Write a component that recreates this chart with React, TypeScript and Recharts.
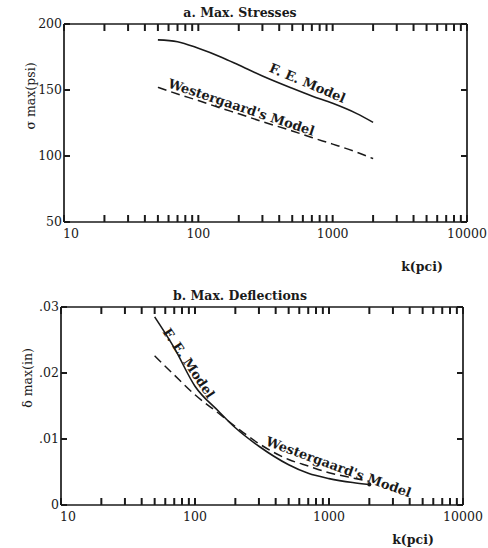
import { LineChart, Line, XAxis, YAxis, ReferenceDot } from 'recharts'

// k(pci) sample points
const kValues = [50, 70, 100, 150, 200, 300, 500, 700, 1000, 1500, 2000]
const stressFE = [188, 186.6, 181.6, 174.7, 168.9, 160.6, 151.3, 145.5, 139.9, 132.3, 125.5]
const stressWest = [152, 147, 142, 136, 132, 126, 119, 114, 109, 103, 98]
const deflFE = [0.0285, 0.0238, 0.018, 0.0142, 0.0117, 0.0089, 0.0061, 0.0048, 0.004, 0.0034, 0.0031]
const deflWest = [0.0226, 0.0197, 0.0167, 0.0139, 0.0119, 0.0093, 0.0069, 0.0059, 0.0049, 0.0041, 0.0036]

const majorK = [10, 100, 1000, 10000]
const minorK = [20, 30, 40, 50, 60, 70, 80, 90, 200, 300, 400, 500, 600, 700, 800, 900, 2000, 3000, 4000, 5000, 6000, 7000, 8000, 9000]
const stressTicks = [50, 100, 150, 200]
const deflTicks = [0, 0.01, 0.02, 0.03]

const stressData = kValues.map((k, i) => ({ k, fe: stressFE[i], west: stressWest[i] }))
const deflData = kValues.map((k, i) => ({ k, fe: deflFE[i], west: deflWest[i] }))

const ink = '#1a1a1a'
const font = "'DejaVu Serif', serif"
const allK = [...majorK, ...minorK]
const TICK = 7
const TICK_W = 2

// bottom/left tick lines come from recharts (negative tickSize = inward);
// these draw the numbers plus the matching tick on the opposite side of the frame
const kTick = (plotH: number) => (props: any) => {
  const { x, y, payload } = props
  const v = payload.value
  const top = y - plotH
  return (
    <g>
      <line x1={x} x2={x} y1={top} y2={top + TICK} stroke={ink} strokeWidth={TICK_W} />
      {majorK.includes(v) && (
        <text x={v === 10 ? x - 1 : x} y={y + 16} textAnchor={v === 10 ? 'start' : 'middle'}
          fontFamily={font} fontSize={12.5} fill={ink}>{v}</text>
      )}
    </g>
  )
}

const yTick = (plotW: number, fmt: (v: number) => string) => (props: any) => {
  const { x, y, payload } = props
  const right = x + plotW
  return (
    <g>
      <line x1={right} x2={right - 6} y1={y} y2={y} stroke={ink} strokeWidth={TICK_W} />
      <text x={x - 2} y={y} dy="0.35em" textAnchor="end" fontFamily={font} fontSize={12.5} fill={ink}>
        {fmt(payload.value)}
      </text>
    </g>
  )
}

const curveLabel = (text: string, angle: number) => (p: any) => (
  <text x={p.cx} y={p.cy} dy="0.35em" textAnchor="middle" transform={`rotate(${angle} ${p.cx} ${p.cy})`}
    fontFamily={font} fontSize={13} fontWeight="bold" fill={ink}>{text}</text>
)

const caption = (text: string, dx: number, dy: number, angle = 0, weight = 'bold') => (p: any) => {
  const vb = p.viewBox
  const x = vb.x + dx
  const y = vb.y + dy
  return (
    <text x={x} y={y} textAnchor="middle" transform={angle ? `rotate(${angle} ${x} ${y})` : undefined}
      fontFamily={font} fontSize={12.5} fontWeight={weight} fill={ink}>{text}</text>
  )
}

const endDot = (last: number) => (p: any) =>
  p.index === last ? <circle key={p.index} cx={p.cx} cy={p.cy} r={2} fill={ink} /> : <g key={p.index} />

function Panel(props: {
  data: any[]; height: number; margin: any; yDomain: number[]; yTicks: number[];
  fmt: (v: number) => string; title: string; titleDx: number; yLabel: string; yLabelDy: number;
  kLabelDx: number; kLabelDy: number; children?: any; dot?: any
}) {
  const { data, height, margin, yDomain, yTicks, fmt } = props
  const frame = { stroke: ink, strokeWidth: 1.7 }
  const tickLine = { stroke: ink, strokeWidth: TICK_W }
  const plotH = height - margin.top - margin.bottom - 21
  const plotW = 488 - margin.left - margin.right - 61
  return (
    <LineChart width={488} height={height} data={data} margin={margin}>
      <XAxis dataKey="k" type="number" scale="log" domain={[10, 10000]} allowDataOverflow ticks={allK}
        interval={0} height={20} tickSize={-TICK} tickMargin={TICK} tick={kTick(plotH)}
        axisLine={frame} tickLine={tickLine}
        label={{ content: caption('k(pci)', props.kLabelDx, props.kLabelDy) }} />
      <XAxis xAxisId="top" dataKey="k" type="number" scale="log" domain={[10, 10000]} allowDataOverflow
        orientation="top" ticks={allK} interval={0} height={1} tick={false} axisLine={frame} tickLine={false}
        label={{ content: caption(props.title, props.titleDx, -6) }} />
      <YAxis type="number" domain={yDomain} allowDataOverflow ticks={yTicks} interval={0} width={60}
        tickSize={-6} tickMargin={6} tick={yTick(plotW, fmt)} axisLine={frame} tickLine={tickLine}
        label={{ content: caption(props.yLabel, 31, props.yLabelDy, -90, 'normal') }} />
      <YAxis yAxisId="r" orientation="right" type="number" domain={yDomain} allowDataOverflow ticks={yTicks}
        interval={0} width={1} tick={false} axisLine={frame} tickLine={false} />
      <Line type="monotone" dataKey="fe" stroke={ink} strokeWidth={1.6} dot={props.dot ?? false}
        isAnimationActive={false} />
      <Line xAxisId="top" yAxisId="r" type="monotone" dataKey="west" stroke={ink} strokeWidth={1.5}
        strokeDasharray="9 5" dot={false} isAnimationActive={false} />
      {props.children}
    </LineChart>
  )
}

export default function App() {
  return (
    <div style={{ position: 'absolute', left: 0, top: 0, width: 488, height: 548, background: '#fff' }}>
      <Panel data={stressData} height={280} margin={{ top: 23, right: 20, left: 4, bottom: 38 }}
        yDomain={[50, 200]} yTicks={stressTicks} fmt={(v) => String(v)}
        title="a.  Max. Stresses" titleDx={176} yLabel="σ  max(psi)" yLabelDy={72}
        kLabelDx={358} kLabelDy={49}>
        <ReferenceDot x={650} y={155.3} r={0} shape={curveLabel('F. E. Model', 23)} />
        <ReferenceDot x={209} y={137} r={0} shape={curveLabel("Westergaard's Model", 18.5)} />
      </Panel>
      <Panel data={deflData} height={268} margin={{ top: 26, right: 24, left: 1, bottom: 23 }}
        yDomain={[0, 0.03]} yTicks={deflTicks} fmt={(v) => (v === 0 ? '0' : String(v).replace('0.', '.'))}
        title="b. Max. Deflections" titleDx={179} yLabel="δ  max(in)" yLabelDy={71}
        kLabelDx={352} kLabelDy={39} dot={endDot(kValues.length - 1)}>
        <ReferenceDot x={90} y={0.0215} r={0} shape={curveLabel('F. E. Model', 56)} />
        <ReferenceDot x={1180} y={0.00576} r={0} shape={curveLabel("Westergaard's Model", 20)} />
      </Panel>
    </div>
  )
}
